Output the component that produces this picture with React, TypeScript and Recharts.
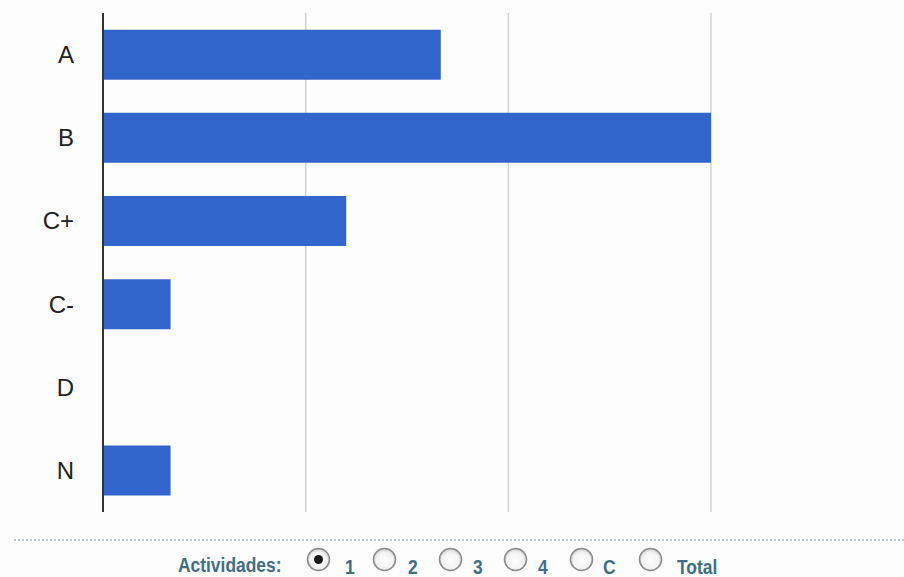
import { Bar, BarChart, CartesianGrid, XAxis, YAxis } from "recharts";

const GRADES = ["A", "B", "C+", "C-", "D", "N"];
const COUNTS = [25, 45, 18, 5, 0, 5];
const X_TICKS = [0, 15, 30, 45];
const OPTIONS = ["1", "2", "3", "4", "C", "Total"];
const SELECTED = "1";

const BAR_COLOUR = "#3366cc";
const LABEL_COLOUR = "#3f6f86";

// footer layout: radio centres and label left edges
const RADIO_CX = [318, 384, 450, 515, 581, 650];
const LABEL_X = [345, 408, 473, 538, 603, 677];

const data = GRADES.map((grade, i) => ({ grade, count: COUNTS[i] }));

const narrowText = {
  position: "absolute" as const,
  color: LABEL_COLOUR,
  fontFamily: "Arial, 'Liberation Sans', sans-serif",
  fontWeight: "bold" as const,
  fontSize: 20,
  lineHeight: "22px",
  transform: "scaleX(0.87)",
  transformOrigin: "left center",
  whiteSpace: "nowrap" as const,
};

function Radio({ checked }: { checked: boolean }) {
  return (
    <svg width={25} height={25} style={{ display: "block" }}>
      <defs>
        <radialGradient id="rg" cx="50%" cy="55%" r="55%">
          <stop offset="0%" stopColor="#ffffff" />
          <stop offset="70%" stopColor="#f2f2f2" />
          <stop offset="100%" stopColor="#c8c8c8" />
        </radialGradient>
      </defs>
      <circle cx={12.5} cy={12.5} r={11} fill="url(#rg)" stroke="#8c8c8c" strokeWidth={1.5} />
      {checked && <circle cx={12.5} cy={12.5} r={4.5} fill="#1a1a1a" />}
    </svg>
  );
}

export default function App() {
  return (
    <div
      style={{
        position: "absolute",
        left: 0,
        top: 0,
        width: 904,
        height: 577,
        background: "#fdfdfd",
        fontFamily: "Arial, 'Liberation Sans', sans-serif",
      }}
    >
      <BarChart
        width={904}
        height={530}
        data={data}
        layout="vertical"
        margin={{ top: 13, right: 193, bottom: 18, left: 0 }}
        barCategoryGap="20%"
      >
        <CartesianGrid horizontal={false} stroke="#d2d2d2" strokeWidth={1.5} />
        <XAxis
          type="number"
          domain={[0, 45]}
          ticks={X_TICKS}
          tick={{ fill: "transparent", fontSize: 1 }}
          axisLine={false}
          tickLine={false}
          height={0}
        />
        <YAxis
          type="category"
          dataKey="grade"
          width={103}
          tickLine={false}
          tickSize={0}
          tickMargin={29}
          axisLine={{ stroke: "#333", strokeWidth: 2 }}
          tick={{ fill: "#222", fontSize: 24, fontFamily: "Arial, 'Liberation Sans', sans-serif" }}
        />
        <Bar dataKey="count" fill={BAR_COLOUR} isAnimationActive={false} />
      </BarChart>

      <div
        style={{
          position: "absolute",
          left: 14,
          right: 0,
          top: 539,
          borderTop: "2px dotted #b4c8d2",
        }}
      />

      <div style={{ ...narrowText, left: 178, top: 554 }}>Actividades:</div>
      {OPTIONS.map((opt, i) => (
        <div key={opt}>
          <div style={{ position: "absolute", left: RADIO_CX[i] - 12.5, top: 547 }}>
            <Radio checked={opt === SELECTED} />
          </div>
          <div style={{ ...narrowText, left: LABEL_X[i], top: 556 }}>{opt}</div>
        </div>
      ))}
    </div>
  );
}
